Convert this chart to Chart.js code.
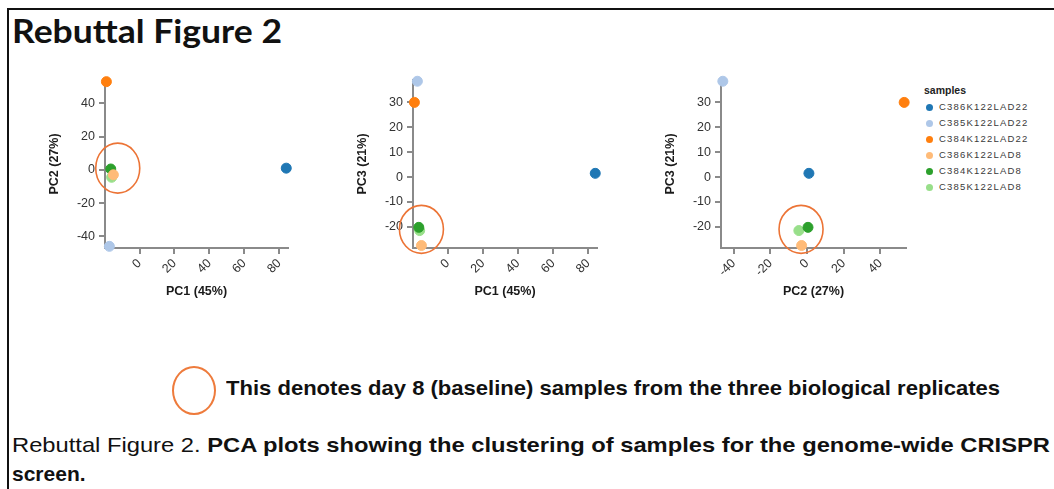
<!DOCTYPE html>
<html>
<head>
<meta charset="utf-8">
<script src="https://cdn.jsdelivr.net/npm/chart.js@4/dist/chart.umd.min.js"></script>
<style>
    body { margin: 0; width: 1054px; height: 489px; overflow: hidden; position: relative; background: #fff; font-family: Arial, "Liberation Sans", sans-serif; }
    .frame { position: absolute; left: 7px; top: 8px; width: 1050px; height: 485px; border-left: 2px solid #111; border-top: 2px solid #111; }
    .txt { position: absolute; white-space: nowrap; transform-origin: 0 0; color: #111; }
    .plot { position: absolute; top: 60px; }
    #legend { position: absolute; left: 924px; top: 84px; color: #3a3a3a; }
    #legend .ttl { font-weight: bold; font-size: 10.5px; color: #222; margin-bottom: 3px; }
    #legend .item { font-size: 9.5px; letter-spacing: 1.2px; height: 16px; line-height: 16px; }
    #legend .dot { display: inline-block; width: 7px; height: 7px; border-radius: 50%; margin: 0 6px 0 2px; vertical-align: -0.5px; }
    .ring { position: absolute; left: 172px; top: 366px; width: 40px; height: 45px; border: 2px solid #ee7b3c; border-radius: 50%; }
</style>
</head>
<body>
<div class="frame"></div>
<div class="txt" id="title" data-w="270" style="left:12px;top:10px;font-family:Lato,'Open Sans',sans-serif;font-weight:bold;font-size:33px;">Rebuttal Figure 2</div>

<canvas id="pca1" class="plot" style="left:43px" width="260" height="243"></canvas>
<canvas id="pca2" class="plot" style="left:351px" width="261" height="243"></canvas>
<canvas id="pca3" class="plot" style="left:659px" width="262" height="243"></canvas>
<div id="legend"></div>

<div class="ring"></div>
<div class="txt" data-w="774" style="left:226px;top:376px;font-weight:bold;font-size:21px;">This denotes day 8 (baseline) samples from the three biological replicates</div>
<div class="txt" data-w="1038" style="left:12px;top:433px;font-size:21px;">Rebuttal Figure 2. <b>PCA plots showing the clustering of samples for the genome-wide CRISPR</b></div>
<div class="txt" style="left:12px;top:462px;font-size:21px;font-weight:bold;">screen.</div>

<script>
var samples = ['C386K122LAD22', 'C385K122LAD22', 'C384K122LAD22', 'C386K122LAD8', 'C384K122LAD8', 'C385K122LAD8'];
var colors = ['#1f77b4', '#aec7e8', '#ff7f0e', '#ffbb78', '#2ca02c', '#98df8a'];
var pc1 = [84, -17.3, -19, -15, -16.5, -16];
var pc2 = [1, -46, 53, -3, 0.5, -4.5];
var pc3 = [1.5, 38.5, 30, -27.5, -20.2, -21.5];

// ellipse around the day 8 samples (data coords of centre)
var ringPlugin = {
    id: 'ring',
    afterDatasetsDraw: function (chart, args, opts) {
        var c = chart.ctx;
        var x = chart.scales.x.getPixelForValue(opts.x);
        var y = chart.scales.y.getPixelForValue(opts.y);
        c.save();
        c.strokeStyle = '#ec7436';
        c.lineWidth = 1.6;
        c.beginPath();
        c.ellipse(x, y, opts.rx, opts.ry, 0, 0, 2 * Math.PI);
        c.stroke();
        c.restore();
    }
};

function makePlot(id, xs, ys, xTitle, yTitle, xMin, xMax, yMin, yMax, xStep, yStep, ring) {
    var datasets = samples.map(function (s, i) {
        return {
            label: s,
            data: [{ x: xs[i], y: ys[i] }],
            backgroundColor: colors[i],
            borderColor: colors[i],
            pointRadius: 5,
            pointHoverRadius: 5,
            clip: false
        };
    });
    var axisCommon = {
        border: { display: true, color: '#8a8a8a', width: 2 },
        grid: { drawOnChartArea: false, drawTicks: true, tickLength: 6, color: '#8a8a8a', lineWidth: 2 },
        title: { display: true, color: '#1a1a1a', font: { family: 'Arial', size: 12.5, weight: 'bold' } }
    };
    return new Chart(document.getElementById(id), {
        type: 'scatter',
        data: { datasets: datasets },
        options: {
            responsive: false,
            animation: false,
            layout: { padding: { top: 20, right: 15, left: 0, bottom: 0 } },
            plugins: { legend: { display: false }, tooltip: { enabled: false }, ring: ring },
            scales: {
                x: Object.assign({}, axisCommon, {
                    min: xMin, max: xMax,
                    title: Object.assign({}, axisCommon.title, { text: xTitle }),
                    ticks: { stepSize: xStep, includeBounds: false, minRotation: 45, maxRotation: 45, autoSkip: false, color: '#333', padding: 2, font: { family: 'Arial', size: 12.5 } },
                    afterFit: function (s) { s.height = 55; }
                }),
                y: Object.assign({}, axisCommon, {
                    min: yMin, max: yMax,
                    title: Object.assign({}, axisCommon.title, { text: yTitle }),
                    ticks: { stepSize: yStep, includeBounds: false, color: '#333', padding: 4, font: { family: 'Arial', size: 12.5 } },
                    afterFit: function (s) { s.width = 62; }
                })
            }
        },
        plugins: [ringPlugin]
    });
}

makePlot('pca1', pc1, pc2, 'PC1 (45%)', 'PC2 (27%)', -19.8, 85, -47, 54, 20, 20, { x: -12.5, y: 1, rx: 22, ry: 25 });
makePlot('pca2', pc1, pc3, 'PC1 (45%)', 'PC3 (21%)', -19.8, 85, -28.5, 39, 20, 10, { x: -15, y: -21, rx: 22, ry: 24 });
makePlot('pca3', pc2, pc3, 'PC2 (27%)', 'PC3 (21%)', -47, 54, -28.5, 39, 20, 10, { x: -3.3, y: -21, rx: 22, ry: 24 });

// legend
var lg = document.getElementById('legend');
var html = '<div class="ttl">samples</div>';
samples.forEach(function (s, i) {
    html += '<div class="item"><span class="dot" style="background:' + colors[i] + '"></span>' + s + '</div>';
});
lg.innerHTML = html;

// squeeze text blocks to the widths seen in the figure
document.querySelectorAll('[data-w]').forEach(function (el) {
    var w = el.getBoundingClientRect().width;
    el.style.transform = 'scaleX(' + (+el.dataset.w / w) + ')';
});
</script>
</body>
</html>
